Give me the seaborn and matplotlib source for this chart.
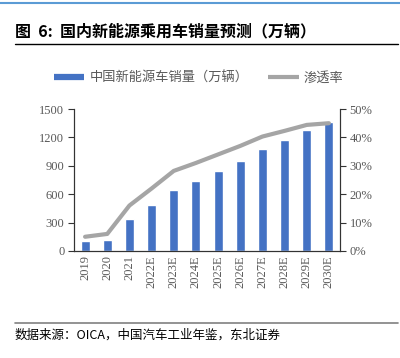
import matplotlib
matplotlib.use("Agg")
import matplotlib.pyplot as plt
from matplotlib.lines import Line2D
import numpy as np
import pandas as pd
import seaborn as sns

# 数据
years = ['2019', '2020', '2021', '2022E', '2023E', '2024E', '2025E',
         '2026E', '2027E', '2028E', '2029E', '2030E']
sales = [106, 120, 333, 482, 641, 739, 845, 951, 1074, 1172, 1278, 1363]
penetration = [5.0, 6.0, 16.0, 22.0, 28.2, 31.0, 34.0, 37.0, 40.3, 42.3, 44.4, 45.0]

bar_color = '#4472C4'
line_color = '#A5A5A5'
text_grey = '#595959'
cjk = ['Noto Sans CJK SC', 'DejaVu Sans']
serif = ['Liberation Serif', 'Noto Sans CJK SC']

sns.set_style('white')
plt.rcParams['font.family'] = cjk

fig = plt.figure(figsize=(4.0, 3.58), dpi=100)
ax = fig.add_axes([0.185, 0.299, 0.665, 0.3965])

df = pd.DataFrame({'year': years, 'sales': sales})
sns.barplot(data=df, x='year', y='sales', color=bar_color, width=0.4,
            saturation=1, ax=ax)

ax2 = ax.twinx()
sns.lineplot(x=np.arange(len(years)), y=penetration, color=line_color,
             linewidth=3, ax=ax2)

ax.set_xlim(-0.5, len(years) - 0.5)
ax.set_ylim(0, 1500)
ax.set_yticks(range(0, 1501, 300))
ax2.set_ylim(0, 50)
ax2.set_yticks(range(0, 51, 10))
ax2.set_yticklabels([f'{v}%' for v in range(0, 51, 10)])
ax.set_xlabel('')
ax.set_ylabel('')
ax2.set_ylabel('')

# x 轴刻度放在类别之间
ax.set_xticks(np.arange(len(years)))
ax.set_xticklabels(years, rotation=90)
ax.set_xticks(np.arange(-0.5, len(years)), minor=True)
ax.tick_params(axis='x', which='major', length=0, pad=3,
               labelsize=9, labelcolor=text_grey)
ax.tick_params(axis='x', which='minor', length=3, width=0.8,
               direction='out', color='#333333')
ax.tick_params(axis='y', length=4, width=0.8, direction='out', pad=3,
               labelsize=9, labelcolor=text_grey, color='#333333', left=True)
ax2.tick_params(axis='y', length=4, width=0.8, direction='out', pad=3,
                labelsize=9, labelcolor=text_grey, color='#333333', right=True)
for lab in ax.get_xticklabels() + ax.get_yticklabels() + ax2.get_yticklabels():
    lab.set_family(serif)

for a in (ax, ax2):
    a.spines['top'].set_visible(False)
    for s in ('left', 'right', 'bottom'):
        a.spines[s].set_color('#333333')
        a.spines[s].set_linewidth(0.8)
    a.grid(False)

# 图例
handles = [Line2D([], [], color=bar_color, linewidth=4.5, solid_capstyle='butt'),
           Line2D([], [], color=line_color, linewidth=3, solid_capstyle='butt')]
fig.legend(handles, ['中国新能源车销量（万辆）', '渗透率'],
           loc='center left', bbox_to_anchor=(0.135, 0.782), ncol=2,
           frameon=False, fontsize=9.5, labelcolor=text_grey,
           handlelength=2.3, handletextpad=0.4, columnspacing=1.5,
           borderpad=0, borderaxespad=0)

# 标题、线条与来源
fig.add_artist(Line2D([0, 1], [0.992, 0.992], color='#5B9BD5', linewidth=1.5,
                      transform=fig.transFigure))
fig.text(0.037, 0.913, '图  6:  国内新能源乘用车销量预测（万辆）', fontsize=11.5,
         fontweight='bold', color='black', va='center', family=cjk)
fig.add_artist(Line2D([0.037, 0.995], [0.878, 0.878], color='black',
                      linewidth=1.0, transform=fig.transFigure))
fig.add_artist(Line2D([0.037, 0.995], [0.098, 0.098], color='#808080',
                      linewidth=1.2, transform=fig.transFigure))
fig.text(0.037, 0.064, '数据来源：OICA，中国汽车工业年鉴，东北证券', fontsize=9,
         color='black', va='center', family=cjk)

fig.savefig('out.png', dpi=100)
plt.close(fig)
